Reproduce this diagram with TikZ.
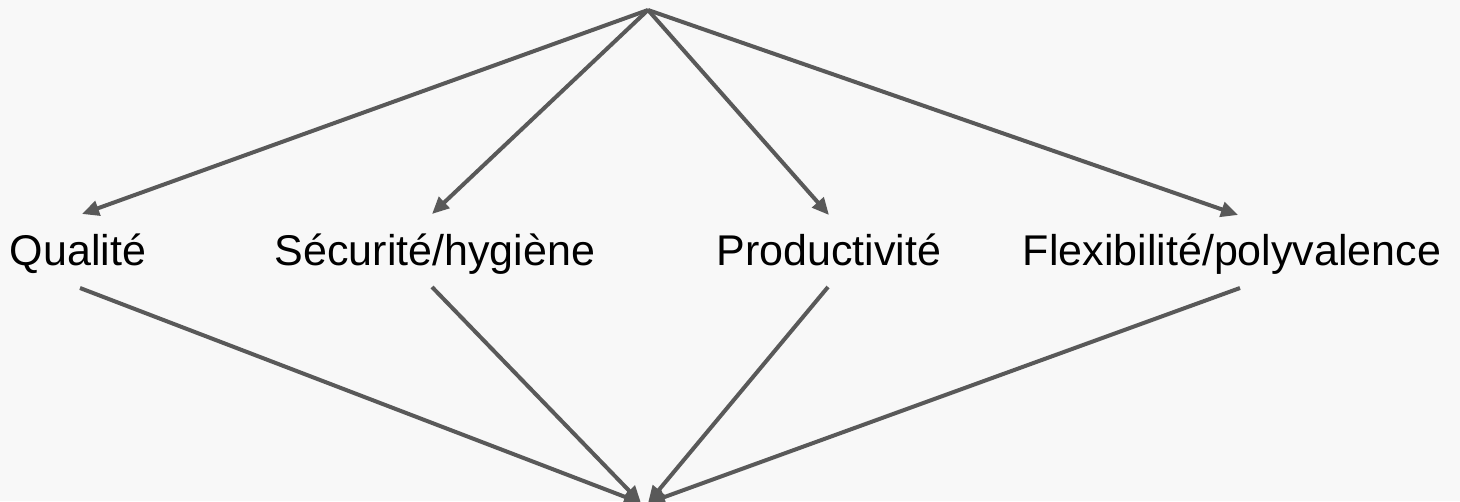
\documentclass[tikz,border=0pt]{standalone}
\usepackage{fontspec}
\setmainfont{Liberation Sans}
\usetikzlibrary{arrows.meta}
\definecolor{linec}{HTML}{595959}
\definecolor{bgc}{HTML}{F8F8F8}
\begin{document}
\begin{tikzpicture}[x=1pt,y=-1pt,
  lbl/.style={anchor=base,inner sep=0pt,font=\fontsize{43}{50}\selectfont},
  conn/.style={draw=linec,line width=4pt,-{Triangle[length=17pt,width=15pt]}}]
\useasboundingbox (0,0) rectangle (1460,501);
\clip (0,0) rectangle (1460,501);
\fill[bgc] (0,0) rectangle (1460,501);
\coordinate (top) at (648,10);
\node[lbl] (q) at (78,265) {Qualité};
\node[lbl] (s) at (435,265) {Sécurité/hygiène};
\node[lbl] (p) at (829,265) {Productivité};
\node[lbl] (f) at (1232,265) {Flexibilité/polyvalence};
\coordinate (qt) at (82,214);
\coordinate (st) at (432,214);
\coordinate (pt) at (829,215);
\coordinate (ft) at (1238,215);
\coordinate (qb) at (80,288);
\coordinate (sb) at (432,287);
\coordinate (pb) at (828,287);
\coordinate (fb) at (1240,288);
\coordinate (bot1) at (641,503);
\coordinate (bot2) at (648,503);
\draw[conn] (top) -- (qt);
\draw[conn] (top) -- (st);
\draw[conn] (top) -- (pt);
\draw[conn] (top) -- (ft);
\draw[conn] (qb) -- (bot1);
\draw[conn] (sb) -- (bot1);
\draw[conn] (pb) -- (bot2);
\draw[conn] (fb) -- (bot2);
\end{tikzpicture}
\end{document}
